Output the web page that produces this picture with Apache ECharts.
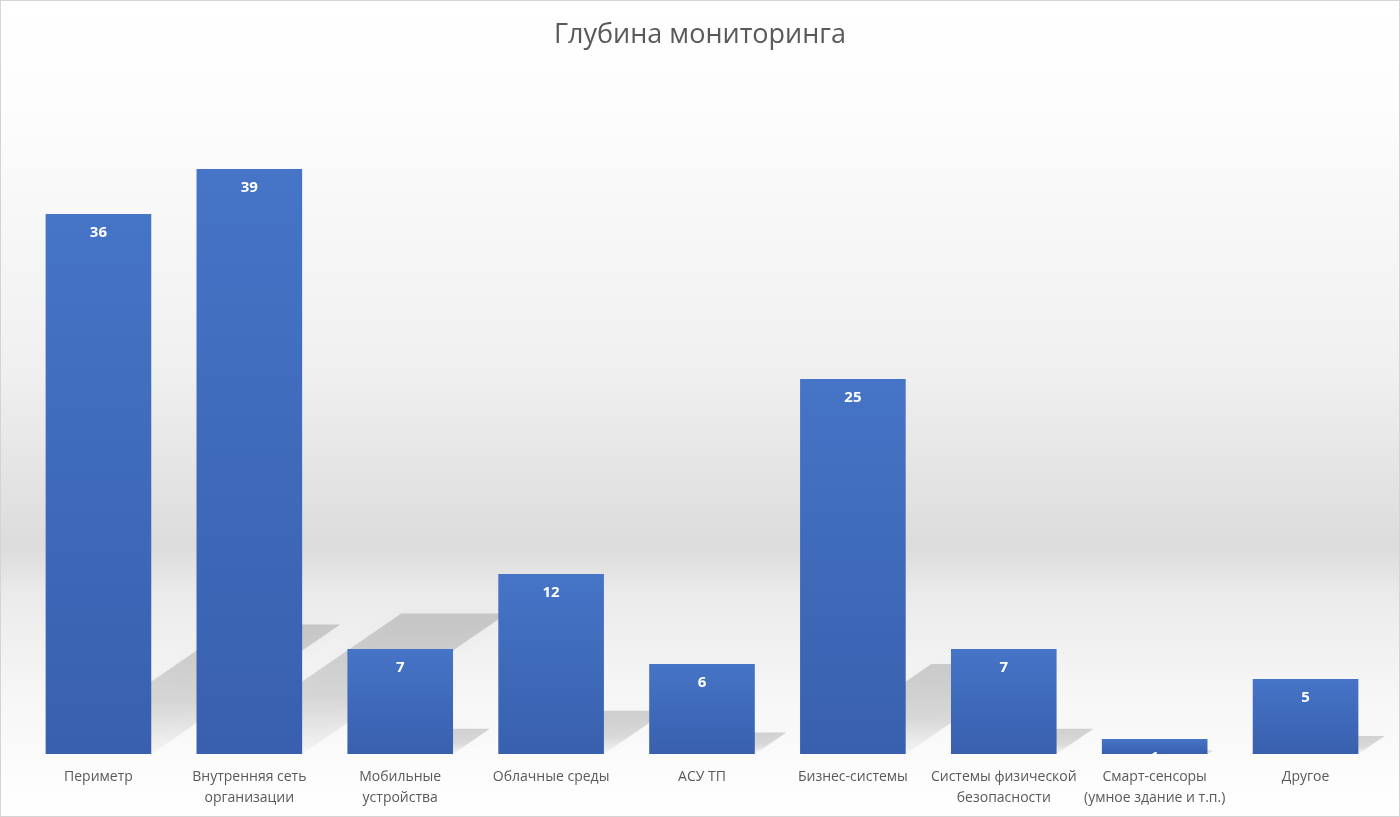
<!DOCTYPE html>
<html lang="ru">
<head>
    <meta charset="UTF-8">
    <title>Глубина мониторинга</title>
    <script src="https://cdn.jsdelivr.net/npm/echarts@6/dist/echarts.min.js"></script>
    <style>
        html, body { margin: 0; padding: 0; background: #fff; }
        #main { width: 1400px; height: 817px; box-sizing: border-box; border: 1px solid #d4d4d4; }
    </style>
</head>
<body>
<div id="main"></div>
<script>
    var categories = ['Периметр', 'Внутренняя сеть\nорганизации', 'Мобильные\nустройства', 'Облачные среды',
        'АСУ ТП', 'Бизнес-системы', 'Системы физической\nбезопасности', 'Смарт-сенсоры\n(умное здание и т.п.)', 'Другое'];
    var values = [36, 39, 7, 12, 6, 25, 7, 1, 5];

    var myChart = echarts.init(document.getElementById('main'));

    // косая тень за столбиком
    function renderShadow(params, api) {
        var i = api.value(0);
        var v = api.value(1);
        var base = api.coord([i, 0]);
        var top = api.coord([i, v]);
        var half = api.size([1, 0])[0] * 0.35;
        var h = base[1] - top[1];
        var dx = h * 0.35, dy = h * 0.24;
        return {
            type: 'polygon',
            shape: {
                points: [
                    [base[0] - half, base[1]],
                    [base[0] + half, base[1]],
                    [base[0] + half + dx, base[1] - dy],
                    [base[0] - half + dx, base[1] - dy]
                ]
            },
            style: {
                fill: {
                    type: 'linear', x: 0, y: 0, x2: 0, y2: 1,
                    colorStops: [
                        {offset: 0, color: 'rgba(0,0,0,0.16)'},
                        {offset: 0.6, color: 'rgba(0,0,0,0.12)'},
                        {offset: 1, color: 'rgba(0,0,0,0.02)'}
                    ]
                },
                shadowBlur: 16,
                shadowColor: 'rgba(0,0,0,0.12)'
            }
        };
    }

    var option = {
        backgroundColor: {
            type: 'linear', x: 0, y: 0, x2: 0, y2: 1,
            colorStops: [
                {offset: 0, color: '#ffffff'},
                {offset: 0.12, color: '#fdfdfd'},
                {offset: 0.45, color: '#f0f0f0'},
                {offset: 0.67, color: '#dcdcdc'},
                {offset: 0.73, color: '#ebebeb'},
                {offset: 0.86, color: '#f7f7f7'},
                {offset: 1, color: '#ffffff'}
            ]
        },
        animation: false,
        title: {
            text: 'Глубина мониторинга',
            left: 'center',
            top: 16,
            textStyle: {
                color: '#595959',
                fontSize: 27,
                fontWeight: 'normal',
                fontFamily: 'Open Sans'
            }
        },
        grid: {
            left: 22,
            right: 18,
            top: 78,
            bottom: 62
        },
        xAxis: {
            type: 'category',
            data: categories,
            axisLine: {show: false},
            axisTick: {show: false},
            axisLabel: {
                color: '#595959',
                fontSize: 14,
                fontFamily: 'Open Sans',
                lineHeight: 21,
                margin: 13,
                interval: 0
            }
        },
        yAxis: {
            type: 'value',
            min: 0,
            max: 45,
            show: false,
            splitLine: {show: false}
        },
        series: [
            {
                type: 'custom',
                renderItem: renderShadow,
                data: values.map(function (v, i) { return [i, v]; }),
                z: 1,
                silent: true
            },
            {
                type: 'bar',
                data: values,
                barWidth: '70%',
                z: 2,
                itemStyle: {
                    color: {
                        type: 'linear', x: 0, y: 0, x2: 0, y2: 1,
                        colorStops: [
                            {offset: 0, color: '#4674c6'},
                            {offset: 1, color: '#3860ae'}
                        ]
                    }
                },
                label: {
                    show: true,
                    position: 'insideTop',
                    distance: 11,
                    color: '#ffffff',
                    fontSize: 15,
                    fontWeight: 'bold',
                    fontFamily: 'Open Sans'
                }
            }
        ]
    };
    myChart.setOption(option);
</script>
</body>
</html>
